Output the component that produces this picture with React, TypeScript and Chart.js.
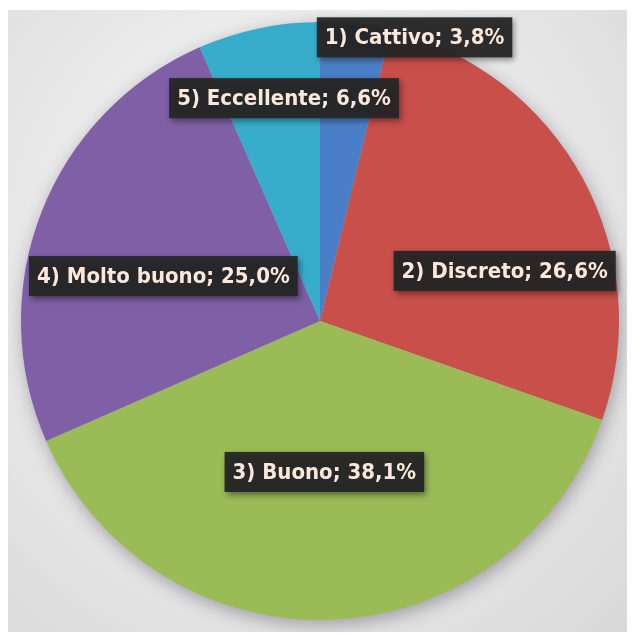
import React, { useEffect, useRef } from "react";
import { Chart, registerables } from "chart.js";

Chart.register(...registerables);

const categories = ["1) Cattivo", "2) Discreto", "3) Buono", "4) Molto buono", "5) Eccellente"];
const percentages = [3.8, 26.6, 38.1, 25.0, 6.6];
const valueLabels = ["3,8%", "26,6%", "38,1%", "25,0%", "6,6%"];
const sliceColors = ["#4a7ec6", "#c84f4a", "#9bbb57", "#7f5fa6", "#38adcb"];

// label placement relative to each slice: radial fraction of radius, angular shift (deg)
const labelRadial = [1.0, 0.64, 0.505, 0.545, 0.755];
const labelShift = [11.6, 13.3, 0.5, -5.3, 2.7];

const pieShadow = {
  id: "pieShadow",
  beforeDatasetsDraw(chart: any) {
    const arc = chart.getDatasetMeta(0).data[0];
    if (!arc) return;
    const ctx = chart.ctx;
    ctx.save();
    ctx.shadowColor = "rgba(60,60,80,0.45)";
    ctx.shadowBlur = 18;
    ctx.shadowOffsetX = 2;
    ctx.shadowOffsetY = 5;
    ctx.fillStyle = "#bbbbbb";
    ctx.beginPath();
    ctx.arc(arc.x, arc.y, arc.outerRadius - 1, 0, Math.PI * 2);
    ctx.fill();
    ctx.restore();
  },
};

const boxLabels = {
  id: "boxLabels",
  afterDatasetsDraw(chart: any) {
    const meta = chart.getDatasetMeta(0);
    const ctx = chart.ctx;
    ctx.save();
    ctx.font = "bold 22px 'DejaVu Sans Condensed', sans-serif";
    ctx.textAlign = "center";
    ctx.textBaseline = "middle";
    meta.data.forEach((arc: any, i: number) => {
      const mid = (arc.startAngle + arc.endAngle) / 2 + (labelShift[i] * Math.PI) / 180;
      const r = arc.outerRadius * labelRadial[i];
      const cx = arc.x + Math.cos(mid) * r;
      const cy = arc.y + Math.sin(mid) * r;
      const text = categories[i] + "; " + valueLabels[i];
      const w = ctx.measureText(text).width + 16;
      const h = 40;
      ctx.save();
      ctx.shadowColor = "rgba(0,0,0,0.45)";
      ctx.shadowBlur = 6;
      ctx.shadowOffsetX = 2;
      ctx.shadowOffsetY = 3;
      ctx.fillStyle = "rgba(38,38,38,0.95)";
      ctx.fillRect(cx - w / 2, cy - h / 2, w, h);
      ctx.restore();
      ctx.fillStyle = "#fbe8dc";
      ctx.fillText(text, cx, cy + 1);
    });
    ctx.restore();
  },
};

export default function App() {
  const ref = useRef<HTMLCanvasElement>(null);
  useEffect(() => {
    if (!ref.current) return;
    const chart = new Chart(ref.current, {
      type: "pie",
      data: {
        labels: categories,
        datasets: [
          {
            data: percentages,
            backgroundColor: sliceColors,
            borderWidth: 0,
          },
        ],
      },
      options: {
        animation: false,
        responsive: false,
        layout: { padding: { left: 12, right: 15, top: 12, bottom: 12 } },
        plugins: {
          legend: { display: false },
          tooltip: { enabled: false },
        },
      },
      plugins: [pieShadow, boxLabels],
    });
    return () => chart.destroy();
  }, []);
  return (
    <div
      style={{
        width: 627,
        height: 622,
        marginTop: 2,
        background: "radial-gradient(ellipse at 45% 40%, #f7f7f7 0%, #ececec 45%, #d8d8d8 100%)",
      }}
    >
      <canvas ref={ref} width={627} height={622} />
    </div>
  );
}
